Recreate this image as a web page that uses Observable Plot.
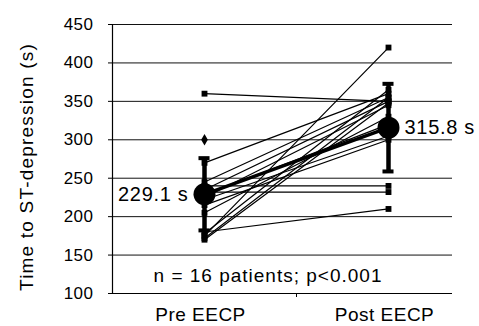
<!DOCTYPE html>
<html>
<head>
<meta charset="utf-8">
<script src="https://cdn.jsdelivr.net/npm/d3@7"></script>
<script src="https://cdn.jsdelivr.net/npm/@observablehq/plot@0.6"></script>
<style>
  body { margin: 0; background: #fff; }
  svg { font-family: "Liberation Sans", Arial, sans-serif; }
</style>
</head>
<body>
<div id="chart"></div>
<script>
const categories = ["Pre EECP", "Post EECP"];
const preValues  = [360, 270, 245, 240, 235, 232, 228, 225, 222, 215, 205, 180, 178, 175, 172, 170];
const postValues = [350, 360, 355, 240, 350, 232, 320, 345, 305, 300, 330, 210, 365, 420, 355, 348];
const outlierPre = [300];
const meanValues = [229.1, 315.8];
const sdValues = [47, 57];
const meanLabels = ["229.1 s", "315.8 s"];
const yTicks = [100, 150, 200, 250, 300, 350, 400, 450];
const gridValues = [150, 200, 250, 300, 350, 400, 450];
const yTitle = "Time to ST-depression (s)";
const note = "n = 16 patients; p<0.001";

const catPos = categories.map((c, i) => i + 0.5);
const rows = [];
preValues.forEach((v, i) => {
  rows.push({patient: i, x: catPos[0], y: v});
  rows.push({patient: i, x: catPos[1], y: postValues[i]});
});
const means = meanValues.map((m, i) => ({x: catPos[i], y: m, sd: sdValues[i], label: meanLabels[i]}));
const caps = means.flatMap(d => [d.y - d.sd, d.y + d.sd].map(v => ({x: d.x, y: v})));

const chart = Plot.plot({
  width: 479,
  height: 326,
  marginTop: 24,
  marginBottom: 33,
  marginLeft: 112,
  marginRight: 27,
  style: {fontFamily: "Liberation Sans, Arial, sans-serif", color: "#000", background: "#fff"},
  x: {domain: [0, 340 / 184], axis: null},
  y: {domain: [100, 450], axis: null},
  marks: [
    Plot.ruleY(gridValues, {stroke: "#111", strokeWidth: 1}),
    Plot.axisY({ticks: yTicks, tickSize: 4, tickPadding: 15, fontSize: 17, label: null}),
    Plot.axisX({ticks: catPos, tickSize: 0, tickPadding: 14, fontSize: 19, dx: -4,
      tickFormat: (d, i) => categories[i], label: null}),
    Plot.axisX({ticks: [1], tickSize: 4, tickFormat: () => "", label: null}),
    Plot.text([yTitle], {frameAnchor: "left", text: d => d, rotate: -90, textAnchor: "middle",
      dx: -86, dy: 8, fontSize: 19, fill: "#000"}),
    Plot.ruleX([0], {stroke: "#000", strokeWidth: 1.2}),
    Plot.ruleY([100], {stroke: "#000", strokeWidth: 1.2}),
    Plot.lineY(rows, {x: "x", y: "y", z: "patient", stroke: "#000", strokeWidth: 1.2}),
    Plot.dot(rows, {x: "x", y: "y", symbol: "square", fill: "#000", r: 3.3}),
    Plot.dot(outlierPre, {x: () => catPos[0], y: d => d, symbol: "diamond", fill: "#000", r: 3.5}),
    Plot.ruleX(means, {x: "x", y1: d => d.y - d.sd, y2: d => d.y + d.sd, stroke: "#000", strokeWidth: 4.5}),
    Plot.ruleY(caps, {y: "y", x1: d => d.x - 0.03, x2: d => d.x + 0.03, stroke: "#000", strokeWidth: 4}),
    Plot.line(means, {x: "x", y: "y", stroke: "#000", strokeWidth: 3.5}),
    Plot.dot(means, {x: "x", y: "y", r: 11, fill: "#000"}),
    Plot.text(means.slice(0, 1), {x: "x", y: "y", text: "label", dx: -16, textAnchor: "end", fontSize: 20, fill: "#000"}),
    Plot.text(means.slice(1), {x: "x", y: "y", text: "label", dx: 16, textAnchor: "start", fontSize: 20, fill: "#000"}),
    Plot.text([note], {x: 0.223, y: 123, text: d => d, textAnchor: "start", fontSize: 19, fill: "#000"})
  ]
});
document.getElementById("chart").appendChild(chart);
// letter spacing to match the wider scanned typeface
d3.select(chart).selectAll("text").each(function() {
  const t = this.textContent;
  let ls = 0.5;
  if (t === yTitle) ls = 1.2;
  else if (t === note) ls = 1;
  else if (meanLabels.includes(t)) ls = 0.7;
  this.style.letterSpacing = ls + "px";
});
</script>
</body>
</html>
